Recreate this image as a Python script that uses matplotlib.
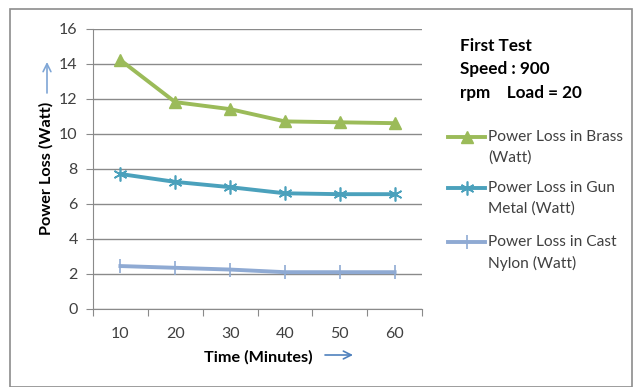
import matplotlib.pyplot as plt
from matplotlib.lines import Line2D
from matplotlib.patches import Rectangle, FancyArrowPatch

time_min = ["10", "20", "30", "40", "50", "60"]
brass = [14.2, 11.8, 11.4, 10.7, 10.65, 10.6]
gun_metal = [7.7, 7.25, 6.95, 6.6, 6.55, 6.55]
cast_nylon = [2.45, 2.35, 2.25, 2.1, 2.1, 2.1]

plt.rcParams['font.family'] = ['Lato', 'DejaVu Sans']

fig = plt.figure(figsize=(6.34, 3.87), dpi=100)
fig.patches.append(Rectangle((10 / 634, 0.0), 622 / 634, 1 - 9 / 387,
                             transform=fig.transFigure, fill=False,
                             edgecolor="#8c8c8c", linewidth=1.2))

ax = fig.add_axes([93 / 634, 78 / 387, 329 / 634, 280.5 / 387])
x = list(range(len(time_min)))

series = [
    (brass, "Power Loss in Brass\n(Watt)", "#9BBB59", dict(marker="^", markersize=9)),
    (gun_metal, "Power Loss in Gun\nMetal (Watt)", "#4BA1BC",
     dict(marker=(6, 2, 0), markersize=10, markeredgewidth=1.2)),
    (cast_nylon, "Power Loss in Cast\nNylon (Watt)", "#8FAAD3",
     dict(marker="|", markersize=10, markeredgewidth=1.2)),
]
for vals, lab, col, mk in series:
    ax.plot(x, vals, color=col, linewidth=2.8, **mk)

ax.set_xlim(-0.5, len(x) - 0.5)
ax.set_ylim(0, 16)
ax.set_yticks(range(0, 17, 2))
ax.yaxis.grid(True, color="#8a8a8a", linewidth=1)
ax.set_axisbelow(True)
ax.set_xticks([i - 0.5 for i in range(len(x) + 1)])
ax.set_xticklabels([])
ax.set_xticks(x, minor=True)
ax.set_xticklabels(time_min, minor=True)
ax.tick_params(axis="x", which="major", length=5, color="#8a8a8a")
ax.tick_params(axis="x", which="minor", length=0, pad=13, labelsize=11.5, labelcolor="#404040")
ax.tick_params(axis="y", length=5, color="#8a8a8a", labelsize=11.5, labelcolor="#404040", pad=6)
for s in ["top", "right"]:
    ax.spines[s].set_visible(False)
for s in ["left", "bottom"]:
    ax.spines[s].set_color("#8a8a8a")

fig.text(258 / 634, 1 - 357 / 387, "Time (Minutes)", ha="center", va="center",
         fontsize=11.7, fontweight="bold")
fig.text(46 / 634, 1 - 168 / 387, "Power Loss (Watt)", ha="center", va="center",
         rotation=90, fontsize=11.7, fontweight="bold")
fig.patches.append(FancyArrowPatch((325 / 634, 1 - 355 / 387), (353 / 634, 1 - 355 / 387),
                                   transform=fig.transFigure, arrowstyle="->",
                                   mutation_scale=14, color="#4F81BD", linewidth=1.2,
                                   shrinkA=0, shrinkB=0))
fig.patches.append(FancyArrowPatch((47 / 634, 1 - 93 / 387), (47 / 634, 1 - 62 / 387),
                                   transform=fig.transFigure, arrowstyle="->",
                                   mutation_scale=14, color="#7FA6D6", linewidth=1.2,
                                   shrinkA=0, shrinkB=0))

fig.text(460 / 634, 1 - 46 / 387, "First Test", fontsize=12.3, fontweight="bold", va="center")
fig.text(460 / 634, 1 - 69 / 387, "Speed : 900", fontsize=12.3, fontweight="bold", va="center")
fig.text(460 / 634, 1 - 93 / 387, "rpm    Load = 20", fontsize=12.3, fontweight="bold", va="center")

# legend drawn by hand so the key sits on the first text line
key_rows = [137, 188, 242]
for (vals, lab, col, mk), yr in zip(series, key_rows):
    yf = 1 - yr / 387
    fig.add_artist(Line2D([448 / 634, 485 / 634], [yf, yf], transform=fig.transFigure,
                          color=col, linewidth=2.8))
    fig.add_artist(Line2D([466.5 / 634], [yf], transform=fig.transFigure,
                          color=col, linestyle="none", **mk))
    fig.text(488 / 634, 1 - (yr - 7) / 387, lab, fontsize=11.2, color="#404040",
             va="top", linespacing=1.6)

fig.savefig("out.png", dpi=100)
